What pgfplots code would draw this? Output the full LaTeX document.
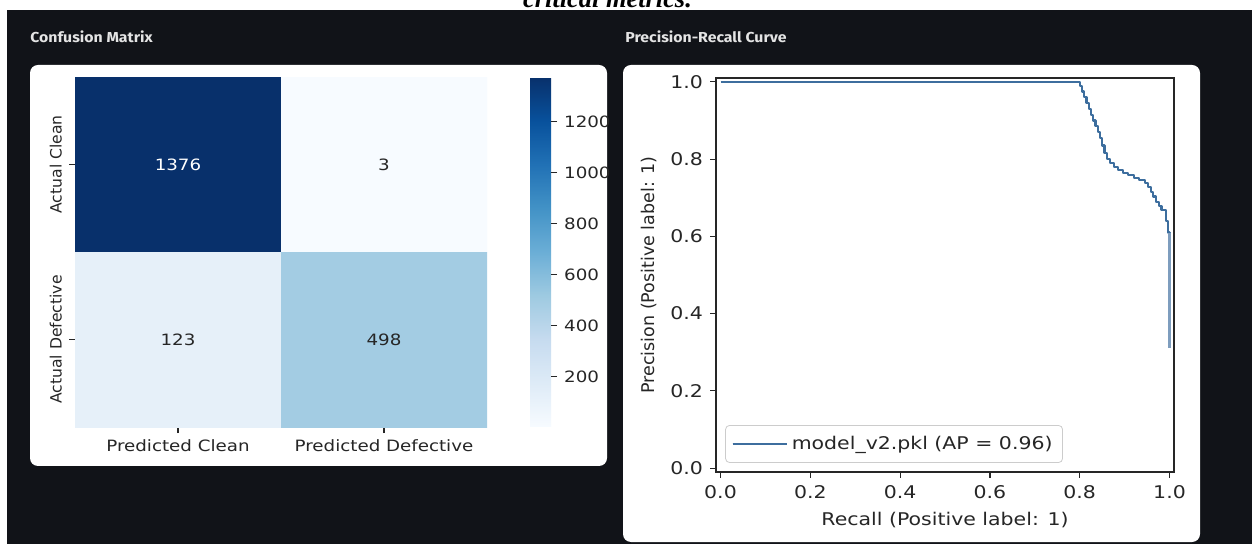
\documentclass[border=0pt]{standalone}
\usepackage{fontspec}
\setmainfont{DejaVu Sans}[FakeStretch=1.17]
\newfontfamily\rotfont{DejaVu Sans}
\newfontfamily\titlefont{Fira Sans}[FakeStretch=1.1]
\newfontfamily\topfont{Liberation Serif}
\usepackage{pgfplots}
\pgfplotsset{compat=1.18}
\definecolor{darkbg}{HTML}{111318}
\definecolor{titlegray}{HTML}{E4E4E4}
\definecolor{txt}{HTML}{262626}
\definecolor{prline}{HTML}{3D6E9E}
\definecolor{prband}{HTML}{7E9DBE}
\pgfplotsset{
  colormap={blues}{rgb255=(247,251,255) rgb255=(222,235,247) rgb255=(198,219,239) rgb255=(158,202,225) rgb255=(107,174,214) rgb255=(66,146,198) rgb255=(33,113,181) rgb255=(8,81,156) rgb255=(8,48,107)},
}
\newcommand{\lf}{\fontsize{7.8pt}{9.5pt}\selectfont}
\newcommand{\rf}{\fontsize{8.75pt}{10.5pt}\selectfont}
\begin{document}
\begin{tikzpicture}
\fill[white] (0,0) rectangle (626pt,-272pt);
\begin{scope}
  \clip (0,0) rectangle (626pt,-5pt);
  \node[anchor=base, inner sep=0pt, font=\topfont\bfseries\itshape\fontsize{13.2pt}{15pt}\selectfont] at (303.75pt,-4pt) {critical metrics.};
\end{scope}
\fill[darkbg] (3.5pt,-5pt) rectangle (626pt,-272pt);
\node[anchor=base west, inner sep=0pt, text=titlegray, font=\titlefont\bfseries\fontsize{7.2pt}{8pt}\selectfont] at (15pt,-21.5pt) {Confusion Matrix};
\node[anchor=base west, inner sep=0pt, text=titlegray, font=\titlefont\bfseries\fontsize{7.2pt}{8pt}\selectfont] at (312.5pt,-21.5pt) {Precision-Recall Curve};
\fill[white, rounded corners=4pt] (15pt,-32.5pt) rectangle (303.5pt,-233pt);
\fill[white, rounded corners=4pt] (311.5pt,-32.5pt) rectangle (600pt,-271pt);

% ---------------- Confusion matrix ----------------
\begin{axis}[
  at={(37.5pt,-213.5pt)}, anchor=south west,
  scale only axis, width=206pt, height=175pt,
  xmin=-0.5, xmax=1.5, ymin=-0.5, ymax=1.5, y dir=reverse,
  axis line style={draw=none},
  tick align=outside, major tick length=3pt,
  xtick={0,1}, ytick={0,1},
  xticklabels={Predicted Clean, Predicted Defective},
  yticklabels={Actual Clean, Actual Defective},
  xtick pos=left, ytick pos=left,
  tick style={color=txt, line width=0.6pt},
  xticklabel style={font=\lf, text=txt},
  yticklabel style={rotate=90, anchor=south, font=\rotfont\lf, text=txt},
  colormap name=blues,
  point meta min=3, point meta max=1376,
  colorbar,
  colorbar style={
    width=10.5pt, at={(parent axis.north east)}, anchor=north west, xshift=13pt,
    axis line style={draw=none},
    ytick={200,400,600,800,1000,1200},
    ytick pos=right, yticklabel pos=right,
    tick align=outside, major tick length=3pt,
    tick style={color=txt, line width=0.6pt},
    yticklabel style={font=\lf, text=txt},
    /pgf/number format/1000 sep={},
    /pgf/number format/assume math mode=true,
  },
]
\addplot[matrix plot*, mesh/cols=2, point meta=explicit] table[meta=c] {
x y c
0 0 1376
1 0 3
0 1 123
1 1 498
};
\addplot[only marks, mark=none, nodes near coords, point meta=explicit symbolic,
  nodes near coords style={anchor=center, text=white, font=\lf}] table[meta=lbl] {
x y lbl
0 0 1376
};
\addplot[only marks, mark=none, nodes near coords, point meta=explicit symbolic,
  nodes near coords style={anchor=center, text=txt, font=\lf}] table[meta=lbl] {
x y lbl
1 0 3
0 1 123
1 1 498
};
\end{axis}

% ---------------- Precision-Recall ----------------
\begin{axis}[
  at={(358pt,-236pt)}, anchor=south west,
  scale only axis, width=229pt, height=197pt,
  xmin=-0.01, xmax=1.01, ymin=-0.01, ymax=1.01,
  xtick={0,0.2,0.4,0.6,0.8,1.0}, ytick={0,0.2,0.4,0.6,0.8,1.0},
  tick align=outside, major tick length=3pt,
  xtick pos=left, ytick pos=left,
  axis line style={color=txt, line width=0.6pt},
  tick style={color=txt, line width=0.6pt},
  ticklabel style={font=\rf, text=txt},
  /pgf/number format/.cd, fixed, fixed zerofill, precision=1, assume math mode=true, /pgfplots/.cd,
  xlabel={Recall (Positive label: 1)},
  ylabel={Precision (Positive label: 1)},
  xlabel style={at={(axis description cs:0.5,-0.122)}, anchor=center, font=\rf, text=txt},
  ylabel style={at={(axis description cs:-0.146,0.5)}, anchor=center, font=\rotfont\rf, text=txt},
  legend style={at={(0.02,0.023)}, anchor=south west, draw=black!20, rounded corners=2pt,
    fill=white, fill opacity=0.8, text opacity=1, font=\rf,
    text=txt, inner xsep=3pt, inner ysep=3.2pt},
  legend cell align=left,
  legend image code/.code={\draw[#1] (0pt,0pt) -- (21pt,0pt); \path (0pt,0pt) -- (27pt,0pt);},
]
\addplot[prline, line width=1.1pt, line join=round] table {
r p
0 1
0.800 1
0.800 0.99
0.805 0.99
0.805 0.975
0.810 0.975
0.810 0.96
0.815 0.96
0.815 0.945
0.820 0.945
0.820 0.93
0.825 0.93
0.825 0.915
0.830 0.915
0.830 0.90
0.835 0.90
0.835 0.885
0.840 0.885
0.840 0.87
0.845 0.87
0.845 0.855
0.850 0.855
0.850 0.835
0.855 0.835
0.855 0.815
0.860 0.815
0.860 0.80
0.868 0.80
0.868 0.79
0.876 0.79
0.876 0.78
0.886 0.78
0.886 0.772
0.897 0.772
0.897 0.765
0.908 0.765
0.908 0.758
0.920 0.758
0.920 0.752
0.932 0.752
0.932 0.746
0.945 0.746
0.945 0.738
0.952 0.738
0.952 0.728
0.958 0.728
0.958 0.715
0.964 0.715
0.964 0.703
0.970 0.703
0.970 0.69
0.976 0.69
0.976 0.678
0.982 0.678
0.982 0.668
0.993 0.668
0.993 0.64
0.997 0.64
0.997 0.61
1.000 0.61
1.000 0.3105
};
\addlegendentry{model\_v2.pkl (AP = 0.96)}
\addplot[prband, line width=1.6pt, forget plot] table {
r p
1.000 0.61
1.000 0.3105
};
\end{axis}
\pgfresetboundingbox
\path[use as bounding box] (0,0) rectangle (626pt,-272pt);
\end{tikzpicture}
\end{document}
